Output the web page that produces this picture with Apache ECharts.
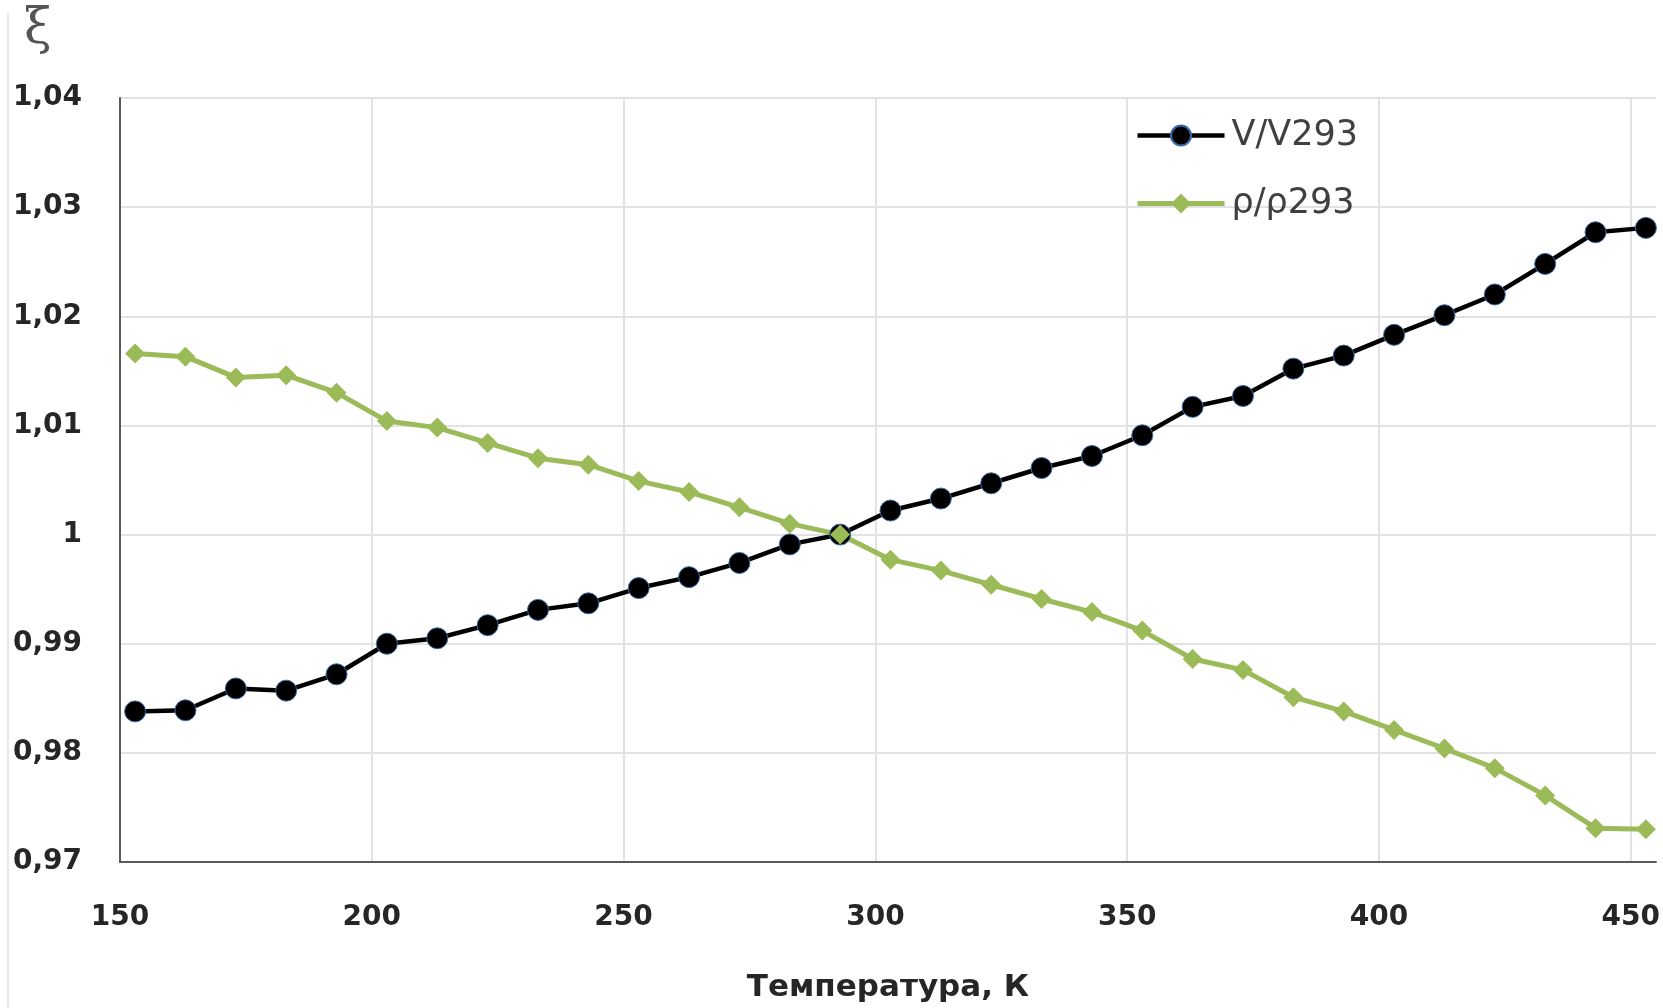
<!DOCTYPE html>
<html>
<head>
<meta charset="utf-8">
<script src="https://cdn.jsdelivr.net/npm/echarts@6/dist/echarts.min.js"></script>
<style>
  html, body { margin: 0; padding: 0; background: #fff; }
  #chart { width: 1663px; height: 1008px; }
</style>
</head>
<body>
<div id="chart"></div>
<script>
// temperature, K
const temps = [153, 163, 173, 183, 193, 203, 213, 223, 233, 243, 253, 263, 273, 283, 293,
  303, 313, 323, 333, 343, 353, 363, 373, 383, 393, 403, 413, 423, 433, 443, 453]

// V/V293
const volRatio = [0.9838, 0.9839, 0.9859, 0.9857, 0.9872, 0.9900, 0.9905, 0.9917, 0.9931, 0.9937,
  0.9951, 0.9961, 0.9974, 0.9991, 1.0000, 1.0022, 1.0033, 1.0047, 1.0061, 1.0072,
  1.0091, 1.0117, 1.0127, 1.0152, 1.0164, 1.0183, 1.0201, 1.0220, 1.0248, 1.0277, 1.0281]

// ρ/ρ293
const densRatio = [1.0166, 1.0163, 1.0144, 1.0146, 1.0130, 1.0104, 1.0098, 1.0084, 1.0070, 1.0064,
  1.0049, 1.0039, 1.0025, 1.0010, 1.0000, 0.9977, 0.9967, 0.9954, 0.9941, 0.9929,
  0.9912, 0.9886, 0.9876, 0.9851, 0.9838, 0.9821, 0.9804, 0.9786, 0.9761, 0.9731, 0.9730]

const seriesNames = ['V/V293', 'ρ/ρ293']
const xTitle = 'Температура, К'
const yTitle = 'ξ'

const colors = {
  vol: '#000000',
  dens: '#9bbb59',
  markerBorder: '#3b6aa8',
  grid: '#e2e2e2',
  axis: '#595959',
  label: '#262626',
  legend: '#404040'
}

const pairs = (ys) => temps.map((t, i) => [t, ys[i]])

// x split lines sit at 150..450 and at the 455 edge; hide the edge one
const xGridColors = [1, 2, 3, 4, 5, 6, 7].map(() => colors.grid).concat('rgba(0,0,0,0)')

const chart = echarts.init(document.getElementById('chart'))
chart.setOption({
  animation: false,
  backgroundColor: '#fff',
  title: {
    text: yTitle,
    left: 19,
    top: 0,
    textStyle: { fontFamily: 'DejaVu Serif', fontWeight: 'normal', fontSize: 50, color: '#555' }
  },
  graphic: [{
    type: 'line',
    shape: { x1: 8, y1: 13, x2: 8, y2: 1008 },
    style: { stroke: '#e8e8e8', lineWidth: 2 }
  }],
  legend: {
    orient: 'vertical',
    left: 1130,
    top: 113,
    itemWidth: 87,
    itemHeight: 25,
    itemGap: 33,
    lineStyle: { width: 'inherit' },
    textStyle: { fontFamily: 'DejaVu Sans', fontSize: 35, color: colors.legend, padding: [0, 0, 0, 2] },
    data: seriesNames
  },
  grid: { left: 120, top: 98, right: 2, bottom: 143, containLabel: false },
  xAxis: {
    type: 'value',
    min: 150,
    max: 455,
    interval: 50,
    name: xTitle,
    nameLocation: 'middle',
    nameGap: 110,
    nameTextStyle: { fontFamily: 'DejaVu Sans', fontWeight: 'bold', fontSize: 31, color: colors.label },
    axisLine: { show: true, lineStyle: { color: colors.axis, width: 2 } },
    axisTick: { show: false },
    axisLabel: {
      margin: 42,
      fontFamily: 'DejaVu Sans',
      fontWeight: 'bold',
      fontSize: 28,
      color: colors.label,
      formatter: (v) => (v % 50 === 0 ? String(v) : '')
    },
    splitLine: { show: true, lineStyle: { color: xGridColors, width: 2 } }
  },
  yAxis: {
    type: 'value',
    min: 0.97,
    max: 1.04,
    interval: 0.01,
    axisLine: { show: true, lineStyle: { color: colors.axis, width: 2 } },
    axisTick: { show: false },
    axisLabel: {
      margin: 38,
      fontFamily: 'DejaVu Sans',
      fontWeight: 'bold',
      fontSize: 28,
      color: colors.label,
      formatter: (v) => String(+v.toFixed(2)).replace('.', ',')
    },
    splitLine: { show: true, lineStyle: { color: colors.grid, width: 2 } }
  },
  series: [
    {
      name: seriesNames[0],
      type: 'line',
      data: pairs(volRatio),
      symbol: 'circle',
      symbolSize: 21,
      lineStyle: { color: colors.vol, width: 4.5 },
      itemStyle: { color: colors.vol, borderColor: colors.markerBorder, borderWidth: 1 }
    },
    {
      name: seriesNames[1],
      type: 'line',
      data: pairs(densRatio),
      symbol: 'diamond',
      symbolSize: [20, 20],
      lineStyle: { color: colors.dens, width: 5 },
      itemStyle: { color: colors.dens }
    }
  ]
})
</script>
</body>
</html>
